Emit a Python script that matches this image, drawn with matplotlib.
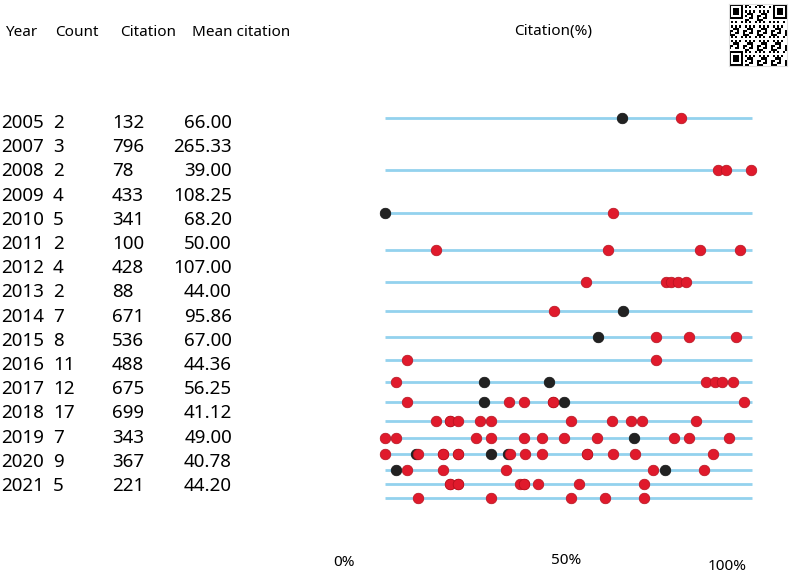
import numpy as np
import matplotlib
matplotlib.use("Agg")
import matplotlib.pyplot as plt

plt.rcParams["font.family"] = ["Noto Sans", "DejaVu Sans"]

# ---- data ----
years = ["2005", "2007", "2008", "2009", "2010", "2011", "2012", "2013",
         "2014", "2015", "2016", "2017", "2018", "2019", "2020", "2021"]
counts = [2, 3, 2, 4, 5, 2, 4, 2, 7, 8, 11, 12, 17, 7, 9, 5]
citations = [132, 796, 78, 433, 341, 100, 428, 88, 671, 536, 488, 675, 699, 343, 367, 221]
mean_citation = [66.00, 265.33, 39.00, 108.25, 68.20, 50.00, 107.00, 44.00,
                 95.86, 67.00, 44.36, 56.25, 41.12, 49.00, 40.78, 44.20]

# citation percentile of each paper, split by dot colour
red_pct = [
    [80.7],
    [90.7, 92.8, 99.7],
    [62.0],
    [13.8, 60.8, 85.7, 96.8],
    [54.9, 76.5, 77.8, 79.8, 81.9],
    [46.0],
    [73.9, 82.8, 95.7],
    [5.9, 73.9],
    [3.0, 87.6, 89.9, 91.9, 94.8],
    [5.9, 33.9, 37.8, 45.9, 45.9, 97.7],
    [13.8, 17.6, 17.6, 19.9, 25.8, 28.8, 50.7, 61.8, 67.0, 70.0, 84.8],
    [0.0, 3.0, 24.9, 28.8, 37.8, 42.8, 48.9, 57.9, 78.7, 82.8, 93.7],
    [0.0, 8.9, 15.9, 15.9, 19.8, 19.8, 34.1, 38.1, 42.7, 55.1, 55.1, 62.0, 68.1, 89.3],
    [5.9, 15.9, 33.0, 72.9, 86.9],
    [17.6, 17.6, 19.9, 19.9, 36.7, 37.8, 37.8, 41.8, 52.9, 70.7],
    [9.0, 28.8, 50.7, 59.9, 70.7],
]
black_pct = [
    [64.7], [], [0.0], [], [], [64.9], [58.0], [],
    [27.0, 44.6], [27.0, 48.9], [], [67.9], [8.5, 28.9, 33.6], [2.9, 76.3], [], [],
]

header = ["Year", "Count", "Citation", "Mean citation"]
x_labels = ["0%", "50%", "100%"]

RED = "#e01a2c"
BLACK = "#222222"
LINE = "#93d2ee"
TXT = "#000000"

fig = plt.figure(figsize=(8, 5.72), dpi=100)

# text layer in pixel coordinates
tx = fig.add_axes([0, 0, 1, 1])
tx.set_xlim(0, 800)
tx.set_ylim(572, 0)
tx.axis("off")

for x, lab in zip([5, 55, 120, 192], header):
    tx.text(x, 32, lab, fontsize=11, va="center", ha="left", color=TXT)
tx.text(553, 32, "Citation(%)", fontsize=11, va="center", ha="center", color=TXT)

for i, yr in enumerate(years):
    y = 123 + i * 24.2
    tx.text(1, y, yr, fontsize=13.5, va="center", ha="left", color=TXT)
    tx.text(53, y, str(counts[i]), fontsize=13.5, va="center", ha="left", color=TXT)
    tx.text(112, y, str(citations[i]), fontsize=13.5, va="center", ha="left", color=TXT)
    tx.text(232, y, f"{mean_citation[i]:.2f}", fontsize=13.5, va="center", ha="right",
            color=TXT)

for (x, y), lab in zip([(344, 562), (566, 560), (727, 566)], x_labels):
    tx.text(x, y, lab, fontsize=11, va="center", ha="center", color=TXT)

# dot strip axes
ax = fig.add_axes([385 / 800, 1 - 498 / 572, 367 / 800, 380 / 572])
ax.set_yscale("function", functions=(lambda v: np.log(np.maximum(v + 4.6, 1e-6)),
                                     lambda v: np.exp(v) - 4.6))
ax.set_xlim(0, 100)
ax.set_ylim(len(years) - 1, 0)
ax.axis("off")

rows = np.arange(len(years))
ax.hlines(rows, 0, 100, color=LINE, lw=2.0, zorder=1, clip_on=False)

for i in rows:
    if black_pct[i]:
        ax.scatter(black_pct[i], [i] * len(black_pct[i]), s=58, color=BLACK,
                   edgecolor="#111111", linewidth=0.5, zorder=2, clip_on=False)
    if red_pct[i]:
        ax.scatter(red_pct[i], [i] * len(red_pct[i]), s=58, color=RED,
                   edgecolor="#b5121f", linewidth=0.5, zorder=3, clip_on=False)

# QR-like badge in the corner
n = 29
qr = np.zeros((n, n), dtype=int)
r, c = np.indices((n, n))
qr[((r * r * 13 + c * c * 7 + r * c * 3 + r * 5 + c) % 7) < 3] = 1
for (r0, c0) in [(0, 0), (0, n - 7), (n - 7, 0)]:
    qr[max(r0 - 1, 0):r0 + 8, max(c0 - 1, 0):c0 + 8] = 0
    qr[r0:r0 + 7, c0:c0 + 7] = 1
    qr[r0 + 1:r0 + 6, c0 + 1:c0 + 6] = 0
    qr[r0 + 2:r0 + 5, c0 + 2:c0 + 5] = 1
qa = fig.add_axes([729 / 800, 1 - 66 / 572, 58 / 800, 62 / 572])
qa.imshow(qr, cmap="gray_r", interpolation="nearest", aspect="auto")
qa.set_xticks([])
qa.set_yticks([])
for sp in qa.spines.values():
    sp.set_edgecolor("#dddddd")

fig.savefig("out.png", dpi=100)
